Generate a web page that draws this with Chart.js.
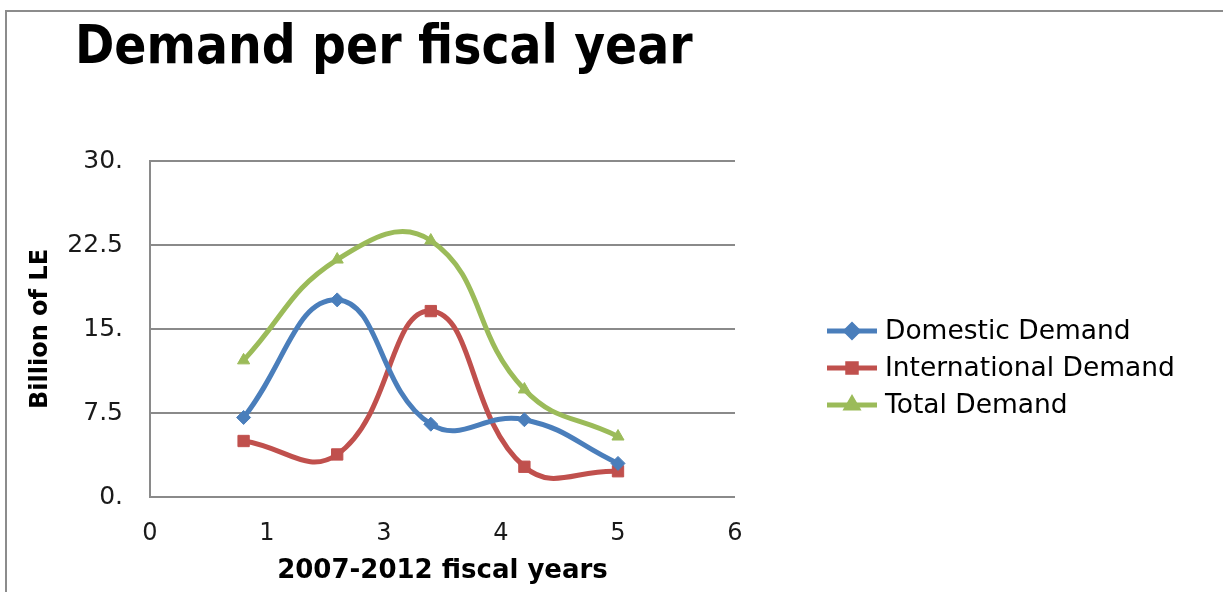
<!DOCTYPE html>
<html lang="en">
<head>
<meta charset="UTF-8">
<title>Demand per fiscal year</title>
<script src="https://cdn.jsdelivr.net/npm/chart.js@4.4.0/dist/chart.umd.min.js"></script>
<style>
    body { margin: 0; background: #fff; }
    #wrap { position: relative; width: 1223px; height: 592px; overflow: hidden; }
    #frame { position: absolute; left: 5px; top: 10px; width: 1240px; height: 600px;
             border-top: 2px solid #8c8c8c; border-left: 2px solid #8c8c8c; }
    #demandChart { position: absolute; left: 0; top: 0; }
</style>
</head>
<body>
<div id="wrap">
    <div id="frame"></div>
    <canvas id="demandChart" width="1223" height="592"></canvas>
</div>
<script>
    // values (billion LE)
    var xValues = [0.8, 1.6, 2.4, 3.2, 4.0];
    var domesticDemand = [7.1, 17.6, 6.5, 6.9, 3.0];
    var internationalDemand = [5.0, 3.8, 16.6, 2.7, 2.3];
    var totalDemand = [12.2, 21.2, 22.9, 9.6, 5.4];
    var seriesNames = ['Domestic Demand', 'International Demand', 'Total Demand'];
    var xTickLabels = ['0', '1', '3', '4', '5', '6'];
    var yTickLabels = ['0.', '7.5', '15.', '22.5', '30.'];
    var chartTitle = 'Demand per fiscal year';

    function toPoints(values) {
        return values.map(function (v, i) { return {x: xValues[i], y: v}; });
    }

    function makeSeries(label, values, color, style, radius) {
        return {
            label: label,
            data: toPoints(values),
            borderColor: color,
            backgroundColor: color,
            borderWidth: 5,
            pointStyle: style,
            pointRadius: radius,
            pointBorderWidth: 1,
            tension: 0.45,
            fill: false
        };
    }

    // title and legend drawn by hand so they sit where the reference has them
    var decor = {
        id: 'decor',
        afterDraw: function (chart) {
            var ctx = chart.ctx;
            ctx.save();
            ctx.fillStyle = '#000';
            ctx.textBaseline = 'alphabetic';
            var stack = '"DejaVu Sans Condensed", "DejaVu Sans"';
            ctx.font = 'bold 50px ' + stack;
            var size = 50 * 618 / ctx.measureText(chartTitle).width;
            ctx.font = 'bold ' + size.toFixed(1) + 'px ' + stack;
            ctx.fillText(chartTitle, 75, 63);

            chart.data.datasets.forEach(function (ds, i) {
                var y = 331 + i * 37;
                ctx.strokeStyle = ds.borderColor;
                ctx.lineWidth = 5;
                ctx.beginPath();
                ctx.moveTo(827, y);
                ctx.lineTo(877, y);
                ctx.stroke();
                ctx.fillStyle = ds.borderColor;
                Chart.helpers.drawPoint(ctx, {pointStyle: ds.pointStyle, radius: 6, borderWidth: 1}, 852, y);
                ctx.fillStyle = '#000';
                ctx.font = '26.5px "DejaVu Sans"';
                ctx.textBaseline = 'middle';
                ctx.fillText(ds.label, 885, y + 1);
            });
            ctx.restore();
        }
    };

    Chart.defaults.font.family = '"DejaVu Sans"';
    Chart.defaults.color = '#1a1a1a';

    var ctx = document.getElementById('demandChart').getContext('2d');
    window.demandChart = new Chart(ctx, {
        type: 'line',
        data: {
            datasets: [
                makeSeries(seriesNames[0], domesticDemand, '#4a7ebb', 'rectRot', 7),
                makeSeries(seriesNames[1], internationalDemand, '#c0504d', 'rect', 8),
                makeSeries(seriesNames[2], totalDemand, '#9bbb59', 'triangle', 7)
            ]
        },
        options: {
            responsive: false,
            animation: false,
            layout: {padding: {left: 26, top: 161, right: 488, bottom: 0}},
            plugins: {
                legend: {display: false},
                title: {display: false},
                tooltip: {enabled: false}
            },
            scales: {
                x: {
                    type: 'linear',
                    min: 0,
                    max: 5,
                    grid: {display: false},
                    border: {display: false},
                    ticks: {
                        stepSize: 1,
                        padding: 14,
                        font: {size: 24},
                        callback: function (v, i) { return xTickLabels[i]; }
                    },
                    title: {
                        display: true,
                        text: '2007-2012 fiscal years',
                        color: '#000',
                        font: {size: 26, weight: 'bold'},
                        padding: {top: 0, bottom: 5}
                    },
                    afterFit: function (scale) { scale.height = 95; }
                },
                y: {
                    min: 0,
                    max: 30,
                    grid: {color: '#8a8a8a', lineWidth: 2, drawTicks: false},
                    border: {display: true, color: '#8a8a8a', width: 2},
                    ticks: {
                        stepSize: 7.5,
                        padding: 27,
                        font: {size: 25},
                        callback: function (v, i) { return yTickLabels[i]; }
                    },
                    title: {
                        display: true,
                        text: 'Billion of LE',
                        color: '#000',
                        font: {size: 24, weight: 'bold'},
                        padding: {top: 0, bottom: 0}
                    },
                    afterFit: function (scale) { scale.width = 124; }
                }
            }
        },
        plugins: [decor]
    });
</script>
</body>
</html>
